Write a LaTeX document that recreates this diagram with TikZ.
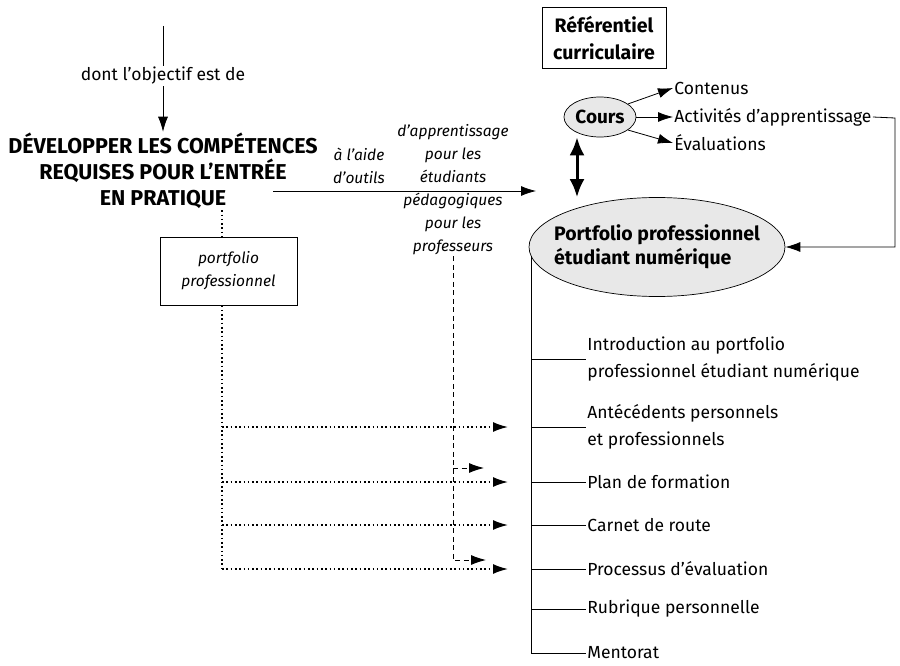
\documentclass[tikz,border=0pt]{standalone}
\usepackage{fontspec}
\setmainfont{Fira Sans}
\usepackage{tikz}
\usetikzlibrary{
  positioning,
  shapes.geometric,
  arrows.meta
}

\tikzset{
  txt/.style={font=\fontsize{17.5}{27}\selectfont, inner sep=1pt},
  lbl/.style={font=\fontsize{15.5}{23}\selectfont\itshape, align=center, inner sep=1pt},
  titre/.style={font=\fontsize{21.5}{26}\selectfont\bfseries, align=center, inner sep=1pt},
  boite/.style={draw, line width=0.9pt, align=center},
  bulle/.style={ellipse, draw, line width=0.7pt, fill=gray!18, align=left,
    inner sep=0pt, font=\fontsize{19.5}{24}\selectfont\bfseries},
  pointille/.style={line width=1.6pt, dash pattern=on 1.6pt off 2.7pt},
  tiret/.style={line width=0.9pt, dash pattern=on 5pt off 3.5pt},
}

\begin{document}
\begin{tikzpicture}[x=1pt,y=-1pt,line width=0.8pt,>={Latex[length=15pt,width=10pt]}]
    \useasboundingbox (0,0) rectangle (900,666);

        % partie gauche
        \coordinate (haut) at (163,26);
        \node[txt] (dont) at (163,76) {dont l'objectif est de};
        \node[titre] (dev) at (163,171) {DÉVELOPPER LES COMPÉTENCES\\REQUISES POUR L'ENTRÉE\\EN PRATIQUE};
        \draw (haut) -- (dont.north);
        \draw[->] (dont.south) -- (dont.south |- dev.north);

        \node[boite, lbl, minimum width=137, minimum height=68] (pp) at (228.5,271) {portfolio\\professionnel};

        % outils
        \node[lbl] (aide) at (359,166) {à l'aide\\d'outils};
        \node[lbl] (etud) at (453,154) {d'apprentissage\\pour les\\étudiants};
        \node[lbl] (prof) at (453,224) {pédagogiques\\pour les\\professeurs};
        \coordinate (depart) at (273,191);
        \coordinate (fin) at (536,191);
        \draw[->] (depart) -- (fin);

        % partie droite
        \node[boite, font=\fontsize{19.5}{27}\selectfont\bfseries, minimum width=124, minimum height=61] (ref) at (604,38) {Référentiel\\curriculaire};
        \node[bulle, font=\fontsize{19}{22}\selectfont\bfseries, minimum width=72, minimum height=40] (cours) at (600,117) {Cours};
        \node[txt, anchor=west] (cont) at (673,88) {Contenus};
        \node[txt, anchor=west] (act) at (673,117) {Activités d'apprentissage};
        \node[txt, anchor=west] (eval) at (673,143) {Évaluations};
        \draw[->] (cours.25) -- (cont.west);
        \draw[->] (cours.east) -- (act.west);
        \draw[->] (cours.-25) -- (eval.west);

        \node[bulle, inner xsep=-15pt, minimum width=256, minimum height=99] (port) at (657,247) {Portfolio professionnel\\étudiant numérique};
        \draw[->] (act.east) -- (895,118) |- (port.east);
        \draw[{Latex[length=18pt,width=15pt]}-{Latex[length=18pt,width=15pt]}, line width=3pt]
            (cours.south -| 577,0) -- (port.north -| 577,0);

        % rubriques du portfolio
        \node[txt, anchor=west, align=left] (intro) at (586,359) {Introduction au portfolio\\professionnel étudiant numérique};
        \node[txt, anchor=west, align=left] (ante) at (586,427) {Antécédents personnels\\et professionnels};
        \node[txt, anchor=west] (plan) at (586,482) {Plan de formation};
        \node[txt, anchor=west] (carnet) at (586,525) {Carnet de route};
        \node[txt, anchor=west] (proc) at (586,569) {Processus d'évaluation};
        \node[txt, anchor=west] (rubr) at (586,609) {Rubrique personnelle};
        \node[txt, anchor=west] (ment) at (586,653) {Mentorat};
        \coordinate (tronc) at (531,0);
        \draw (port.184 -| tronc) -- (ment.west -| tronc) -- (ment.west);
        \foreach \n in {intro,ante,plan,carnet,proc,rubr}
            \draw (\n.west -| tronc) -- (\n.west);

        % liens pointilles
        \coordinate (cible) at (508,0);
        \draw[pointille] (dev.south -| 222,0) -- (pp.north -| 222,0);
        \draw[pointille] (pp.south -| 222,0) -- (proc.west -| 222,0);
        \foreach \n in {ante,plan,carnet,proc}
            \draw[pointille,->] (\n.west -| 222,0) -- (\n.west -| cible);

        \coordinate (fp1) at (484,468);
        \coordinate (fp2) at (486,560);
        \draw[tiret,->] (prof.south) -- (prof.south |- fp2) -- (fp2);
        \draw[tiret,->] (prof.south |- fp1) -- (fp1);
    \end{tikzpicture}
\end{document}
